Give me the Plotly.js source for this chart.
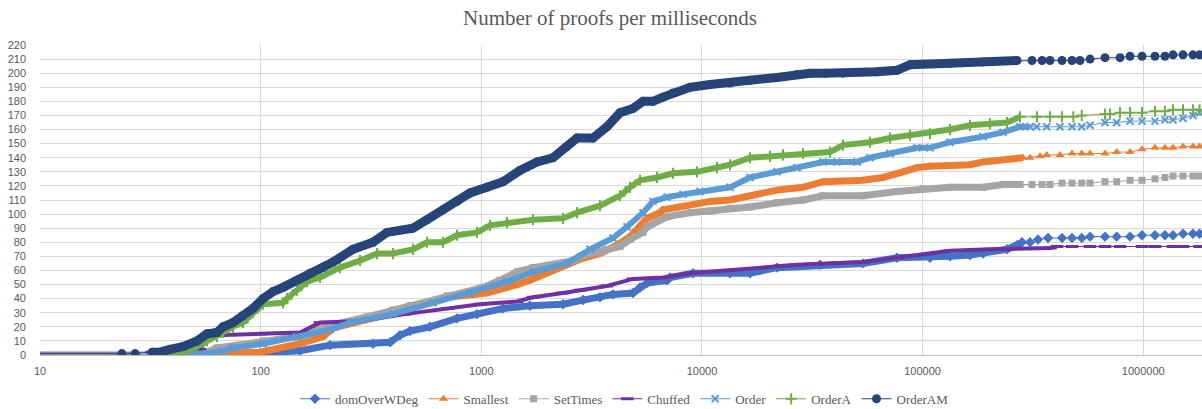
<!DOCTYPE html>
<html><head><meta charset="utf-8">
<script src="https://cdn.plot.ly/plotly-3.0.1.min.js"></script>
<style>html,body{margin:0;padding:0;background:#fff}#chart{width:1202px;height:409px}</style>
</head><body><div id="chart"></div>
<script>
// ---- data (time in ms, number of proofs) ----
const seriesNames = ['domOverWDeg','Smallest','SetTimes','Chuffed','Order','OrderA','OrderAM'];

const domOverWDeg_t = [1,57,80,113.8,150.8,206.2,323,386,428,475,585,776,956,1254,1662,2346,2891,3451,3952,4870,5240,5636,6943,7164,9110,13400,16510,21880,34280,53680,76550,108000,133100,164000,187900,241300,267900,282200,306800,333500,370200,428500,475500,526100,573800,671000,757800,870900,987000,1130000,1254000,1364000,1514000,1680000,1800000];
const domOverWDeg_n = [0,0,0,2,3,7,8,9,14,17,20,26,29,33,35,36,39,41,43,44,48,51,53,55,58,58,58,62,64,65,69,69,70,71,72,75,78,80,80,82,83,83,83,83,84,84,84,84,85,85,85,85,86,86,86];

const smallest_t = [1,46,99,150.8,191.7,212.8,336.9,480,699,1061,1451,1662,2446,2802,3451,4121,4720,5077,5406,5636,6453,6660,8556,10876,13400,16510,21880,28710,35370,53680,66150,81490,94310,108000,133100,164000,187900,241300,285200,306800,340500,365100,419500,475500,526100,573800,671000,757800,870900,987000,1130000,1254000,1364000,1514000,1680000,1800000];
const smallest_n = [0,0,2,8,13,19,27,33,41,44,50,53,64,68,72,78,84,89,94,97,101,103,106,109,110,113,117,119,123,124,126,130,133,134,134,135,137,139,140,140,141,142,142,143,143,143,143,144,144,146,147,147,147,148,148,148];

const setTimes_t = [1,45,57.1,63.4,102.5,162,180,206.2,303.4,398,475,700,1018,1215,1451,1715,2604,2802,3451,3712,4253,4720,5406,5636,6453,6943,8830,10876,13400,16510,21880,28710,35370,53680,76550,100400,133100,187900,231400,276400,313200,347800,378000,428500,475500,526100,573800,671000,757800,870900,987000,1130000,1254000,1364000,1514000,1680000,1800000];
const setTimes_n = [0,0,2,5,10,14,18,21,27,32,35,42,48,53,59,62,67,70,73,75,77,82,87,91,96,98,101,102,104,105,108,110,113,113,116,118,119,119,121,121,121,121,121,122,122,122,122,123,123,124,124,125,126,127,127,127,127];

const chuffed_t = [1,32,40,53.1,57.1,63.4,99.3,150.8,185.8,282,450,700,986,1451,1715,2346,2802,3712,4870,6660,8830,13400,18910,26970,53680,76550,108000,133100,202100,378000,406700,475500,573800,671000,784800,987000,1130000,1364000,1514000,1800000];
const chuffed_n = [2,2,3,4,12,14,15,16,23,24,29,33,36,38,41,44,46,49,54,55,58,60,62,64,66,69,72,74,75,76,77,77,77,77,77,77,77,77,77,77];

const order_t = [1,33,46.4,57.1,67.5,74.9,102.5,146.1,206.2,254.1,398,604,888,1308,1715,2446,3109,3952,4575,5406,6000,6943,8206,9797,13400,16510,21880,26970,35370,40930,50430,57750,71150,94310,108000,133100,187900,231400,276400,306800,328900,365100,419500,475500,526100,573800,671000,757800,870900,987000,1130000,1254000,1364000,1514000,1680000,1800000];
const order_n = [0,0,0,1,3,5,8,13,18,23,29,37,44,52,59,65,75,83,91,101,109,112,114,116,119,126,130,133,137,137,137,140,143,147,147,151,155,158,162,162,162,162,162,162,162,163,165,165,166,166,166,167,167,168,170,172];

const orderA_t = [1,35,40.1,46.4,51.5,57.1,63.4,67.5,74.9,83.2,92.3,99.3,102.5,126.3,131.6,146.1,162.3,185.8,228.8,282,336.9,398,490,568,670,776,956,1095,1308,1715,2346,2715,3451,4253,4720,5240,6256,7392,9495,11700,13400,16510,20340,23300,28710,38050,43580,57750,71150,87650,108000,133100,164000,202100,241300,276400,330000,378000,428500,482000,526100,671000,707000,784800,870900,987000,1130000,1254000,1364000,1514000,1680000,1800000];
const orderA_n = [0,0,1,3,6,10,13,16,20,23,30,35,36,37,40,46,52,55,62,67,72,72,75,80,80,85,87,92,94,96,97,101,106,113,119,124,126,129,130,133,135,140,141,142,143,144,149,151,154,156,157,160,163,164,165,169,169,169,169,169,170,171,171,172,172,172,173,173,174,174,174,174];

const orderAM_t = [1,23.5,27,32.2,35,38.8,44.5,51.5,57.1,63.4,67.5,74.9,83.2,92.3,102.5,113.8,126.3,146.1,167.4,191.7,212.8,262,323,374,490,568,671,776,889,1061,1254,1497,1788,2114,2446,2715,3208,3712,4253,4870,5406,6000,6660,7392,8830,10876,13400,16510,21880,26970,30880,36120,43580,62130,76550,87650,133100,187900,267900,313200,347800,378000,428500,475500,516900,573800,671000,784800,870900,987000,1130000,1254000,1364000,1514000,1680000,1800000];
const orderAM_n = [1,1,1,2,2,4,6,10,15,16,20,23,28,33,40,45,48,53,58,62,66,75,80,87,90,96,103,109,115,119,123,131,137,140,148,154,154,162,172,175,180,180,183,186,190,192,193,195,197,199,200,200,200,201,202,206,207,208,209,209,209,209,209,209,209,210,211,211,212,212,212,212,213,213,213,213];

const xTickVals = [10,100,1000,10000,100000,1000000];
const xTickText = ['10','100','1000','10000','100000','1000000'];
const titleText = 'Number of proofs per milliseconds';

// ---- styles ----
const seriesData = [
  [domOverWDeg_t, domOverWDeg_n],
  [smallest_t, smallest_n],
  [setTimes_t, setTimes_n],
  [chuffed_t, chuffed_n],
  [order_t, order_n],
  [orderA_t, orderA_n],
  [orderAM_t, orderAM_n]
];
const styles = [
  {color:'#4472C4', symbol:'diamond', size:8, lw:0, band:7, from:57, to:282200},
  {color:'#ED7D31', symbol:'triangle-up', size:8, lw:0, band:7, from:46, to:285200},
  {color:'#A5A5A5', symbol:'square', size:7, lw:0, band:7, from:45, to:276400},
  {color:'#7030A0', symbol:'line-ew', size:9, lw:3, band:4, from:32, to:406700},
  {color:'#5B9BD5', symbol:'x-thin', size:7, lw:2, band:6, from:33, to:306800},
  {color:'#70AD47', symbol:'cross-thin', size:8, lw:2, band:6, from:35, to:276400},
  {color:'#264478', symbol:'circle', size:9, lw:0, band:9, from:32.2, to:285000}
];

const traces = [];
seriesData.forEach((d, i) => {
  const s = styles[i];
  const bx = [], by = [];
  d[0].forEach((t, k) => { if (t >= s.from && t <= s.to) { bx.push(t); by.push(d[1][k]); } });
  traces.push({x: bx, y: by, type:'scatter', mode:'lines', showlegend:false, hoverinfo:'skip',
    line:{color:s.color, width:s.band}});
  const m = {symbol:s.symbol, size:s.size, color:s.color};
  if (s.lw) m.line = {color:s.color, width:s.lw};
  traces.push({x: d[0], y: d[1], type:'scatter', mode:'lines+markers', name: seriesNames[i],
    line:{color:s.color, width:1}, marker:m});
});

const layout = {
  width:1202, height:409,
  margin:{l:40, r:0, t:45, b:54, autoexpand:false},
  paper_bgcolor:'#ffffff', plot_bgcolor:'#ffffff',
  title:{text:titleText, x:0.5075, xref:'container', xanchor:'center', y:0.956, yref:'container', yanchor:'middle',
    font:{family:'Liberation Serif, serif', size:21, color:'#595959'}},
  xaxis:{type:'log', range:[1, 6.2662], tickvals:xTickVals, ticktext:xTickText, showgrid:true, gridcolor:'#d9d9d9', gridwidth:1,
    showline:true, linecolor:'#bfbfbf', linewidth:1, zeroline:false, ticks:'', ticklabelstandoff:6, automargin:false,
    tickfont:{family:'Liberation Sans, Arial, sans-serif', size:11, color:'#595959'}},
  yaxis:{range:[0,220], dtick:10, tick0:0, showgrid:true, gridcolor:'#d9d9d9', gridwidth:1, zeroline:false, showline:false, ticks:'',
    ticklabelstandoff:13, automargin:false,
    tickfont:{family:'Liberation Sans, Arial, sans-serif', size:11, color:'#595959'}},
  legend:{orientation:'h', x:0.503, xanchor:'center', y:-0.093, yanchor:'top',
    font:{family:'Liberation Serif, serif', size:13, color:'#595959'}, itemwidth:30, tracegroupgap:0},
  showlegend:true
};

Plotly.newPlot('chart', traces, layout, {displayModeBar:false, staticPlot:true});
</script>
</body></html>
